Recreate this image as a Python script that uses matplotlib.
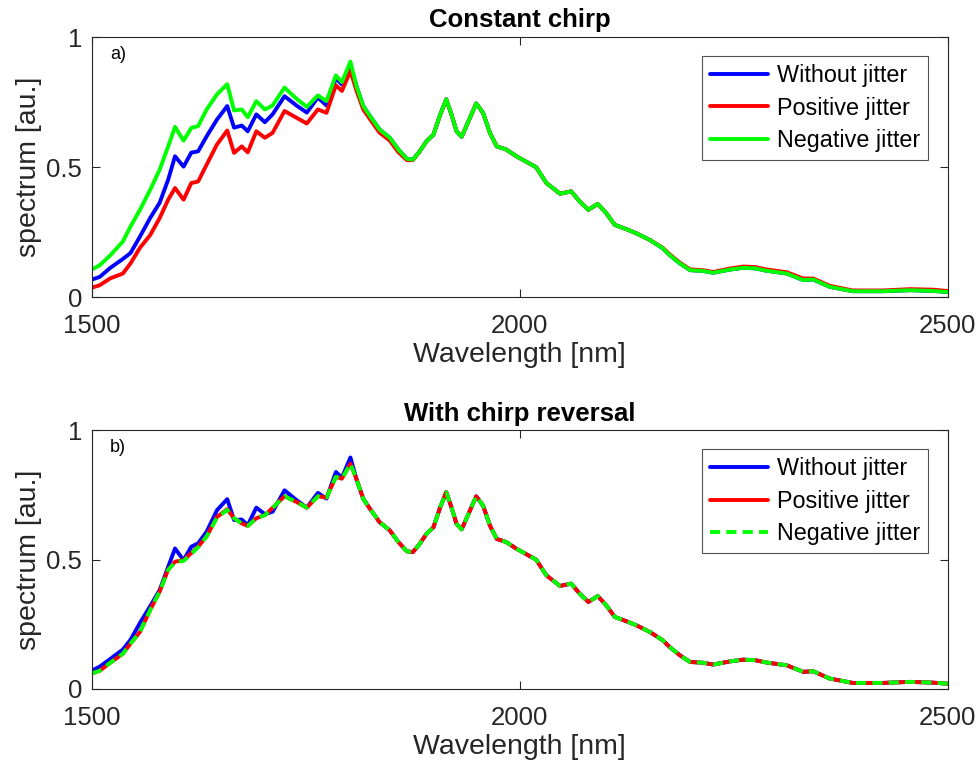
import numpy as np
import matplotlib.pyplot as plt

plt.rcParams['font.family'] = ['Liberation Sans', 'DejaVu Sans']

# wavelength grid where the three curves differ (nm)
wl_head = [1500, 1509, 1521, 1536, 1545, 1556, 1568, 1579, 1589, 1597,
           1607, 1616, 1624, 1634, 1646, 1658, 1666, 1675, 1682, 1692,
           1702, 1711, 1725, 1739, 1751, 1764, 1774, 1785, 1792, 1802]
# common part of the spectrum
wl_tail = [1809, 1817, 1825, 1836, 1848, 1858, 1868, 1875, 1883, 1891,
           1899, 1907, 1914, 1920, 1926, 1932, 1940, 1949, 1957, 1965,
           1973, 1984, 1996, 2008, 2019, 2031, 2047, 2060, 2070, 2080,
           2091, 2101, 2111, 2125, 2136, 2152, 2167, 2175, 2187, 2199,
           2214, 2226, 2245, 2261, 2275, 2288, 2312, 2331, 2343, 2362,
           2389, 2424, 2456, 2483, 2500]
tail = [0.812, 0.735, 0.696, 0.645, 0.613, 0.568, 0.532, 0.529, 0.561, 0.600,
        0.625, 0.703, 0.761, 0.703, 0.638, 0.617, 0.677, 0.745, 0.709, 0.632,
        0.580, 0.568, 0.542, 0.520, 0.500, 0.439, 0.398, 0.407, 0.368, 0.336,
        0.359, 0.323, 0.278, 0.261, 0.246, 0.220, 0.188, 0.162, 0.130, 0.104,
        0.101, 0.094, 0.106, 0.113, 0.111, 0.102, 0.091, 0.066, 0.068, 0.040,
        0.023, 0.023, 0.027, 0.024, 0.020]
tail_red = [0.795, 0.722, 0.684, 0.633, 0.602, 0.558, 0.527, 0.527, 0.561, 0.600,
            0.625, 0.703, 0.761, 0.703, 0.638, 0.617, 0.677, 0.745, 0.709, 0.632,
            0.580, 0.568, 0.542, 0.520, 0.500, 0.439, 0.398, 0.407, 0.368, 0.336,
            0.359, 0.323, 0.278, 0.261, 0.246, 0.220, 0.190, 0.165, 0.133, 0.107,
            0.104, 0.097, 0.110, 0.118, 0.116, 0.107, 0.096, 0.072, 0.072, 0.044,
            0.026, 0.026, 0.031, 0.029, 0.024]

# a) constant chirp
a_without = [0.068, 0.078, 0.112, 0.147, 0.170, 0.233, 0.305, 0.363, 0.452, 0.542,
             0.502, 0.556, 0.561, 0.619, 0.683, 0.735, 0.652, 0.660, 0.638, 0.703,
             0.673, 0.703, 0.773, 0.737, 0.710, 0.768, 0.737, 0.842, 0.818, 0.889]
a_positive = [0.037, 0.046, 0.072, 0.091, 0.130, 0.190, 0.239, 0.304, 0.375, 0.420,
              0.375, 0.439, 0.445, 0.510, 0.587, 0.641, 0.555, 0.580, 0.557, 0.638,
              0.613, 0.632, 0.716, 0.690, 0.668, 0.722, 0.709, 0.815, 0.793, 0.870]
a_negative = [0.107, 0.123, 0.160, 0.214, 0.272, 0.336, 0.413, 0.490, 0.580, 0.655,
              0.602, 0.651, 0.658, 0.722, 0.780, 0.819, 0.718, 0.722, 0.692, 0.754,
              0.722, 0.737, 0.806, 0.763, 0.732, 0.776, 0.754, 0.853, 0.827, 0.906]

# b) with chirp reversal
b_without = [0.071, 0.086, 0.115, 0.152, 0.190, 0.255, 0.320, 0.382, 0.472, 0.543,
             0.498, 0.550, 0.563, 0.608, 0.691, 0.734, 0.653, 0.655, 0.633, 0.701,
             0.676, 0.685, 0.768, 0.730, 0.701, 0.758, 0.736, 0.839, 0.817, 0.895]
b_positive = [0.060, 0.070, 0.100, 0.136, 0.175, 0.220, 0.305, 0.376, 0.462, 0.492,
              0.498, 0.525, 0.550, 0.590, 0.665, 0.695, 0.660, 0.640, 0.630, 0.660,
              0.672, 0.700, 0.745, 0.723, 0.701, 0.745, 0.740, 0.820, 0.813, 0.871]
b_negative = [0.060, 0.070, 0.100, 0.136, 0.175, 0.220, 0.305, 0.376, 0.460, 0.490,
              0.495, 0.522, 0.548, 0.590, 0.662, 0.692, 0.660, 0.640, 0.630, 0.660,
              0.672, 0.700, 0.745, 0.723, 0.701, 0.745, 0.740, 0.820, 0.813, 0.871]

labels = ['Without jitter', 'Positive jitter', 'Negative jitter']
wl = wl_head + wl_tail

fig = plt.figure(figsize=(9.79, 7.74), dpi=100)
ax1 = fig.add_axes([0.094, 0.616, 0.874, 0.336])
ax2 = fig.add_axes([0.094, 0.110, 0.874, 0.334])

lw = 2.8
kw = dict(lw=lw, solid_joinstyle='round', solid_capstyle='round')
ax1.plot(wl, a_without + tail, color='#0000ff', label=labels[0], **kw)
ax1.plot(wl, a_positive + tail_red, color='#ff0000', label=labels[1], **kw)
ax1.plot(wl, a_negative + tail, color='#00ff00', label=labels[2], **kw)

ax2.plot(wl, b_without + tail, color='#0000ff', label=labels[0], **kw)
ax2.plot(wl, b_positive + tail, color='#ff0000', label=labels[1], **kw)
ax2.plot(wl, b_negative + tail, color='#00ff00', lw=lw, ls=(0, (2.6, 1.6)),
         label=labels[2])

titles = ['Constant chirp', 'With chirp reversal']
tags = ['a)', 'b)']
for ax, t, tag in zip([ax1, ax2], titles, tags):
    ax.set_xlim(1500, 2500)
    ax.set_ylim(0, 1)
    ax.set_xticks([1500, 2000, 2500])
    ax.set_yticks([0, 0.5, 1])
    ax.set_yticklabels(['0', '0.5', '1'])
    ax.tick_params(direction='in', top=True, right=True, labelsize=18.5,
                   colors='#262626', length=6, width=0.8)
    ax.tick_params(axis='x', pad=12)
    ax.tick_params(axis='y', pad=7)
    for s in ax.spines.values():
        s.set_color('#262626')
        s.set_linewidth(0.8)
    ax.set_xlabel('Wavelength [nm]', fontsize=20.5, color='#262626', labelpad=3)
    ax.set_ylabel('spectrum [au.]', fontsize=20.5, color='#262626', labelpad=3)
    ax.set_title(t, fontsize=18.5, fontweight='bold', pad=7)
    ax.text(0.021, 0.935, tag, transform=ax.transAxes, fontsize=13, va='center')
    leg = ax.legend(loc='upper right', bbox_to_anchor=(0.977, 0.927), fontsize=16.8,
                    frameon=True, fancybox=False, handlelength=2.5,
                    borderpad=0.35, labelspacing=0.4, handletextpad=0.35,
                    borderaxespad=0)
    leg.get_frame().set_edgecolor('#262626')
    leg.get_frame().set_linewidth(0.8)

fig.savefig('out.png', dpi=100)
